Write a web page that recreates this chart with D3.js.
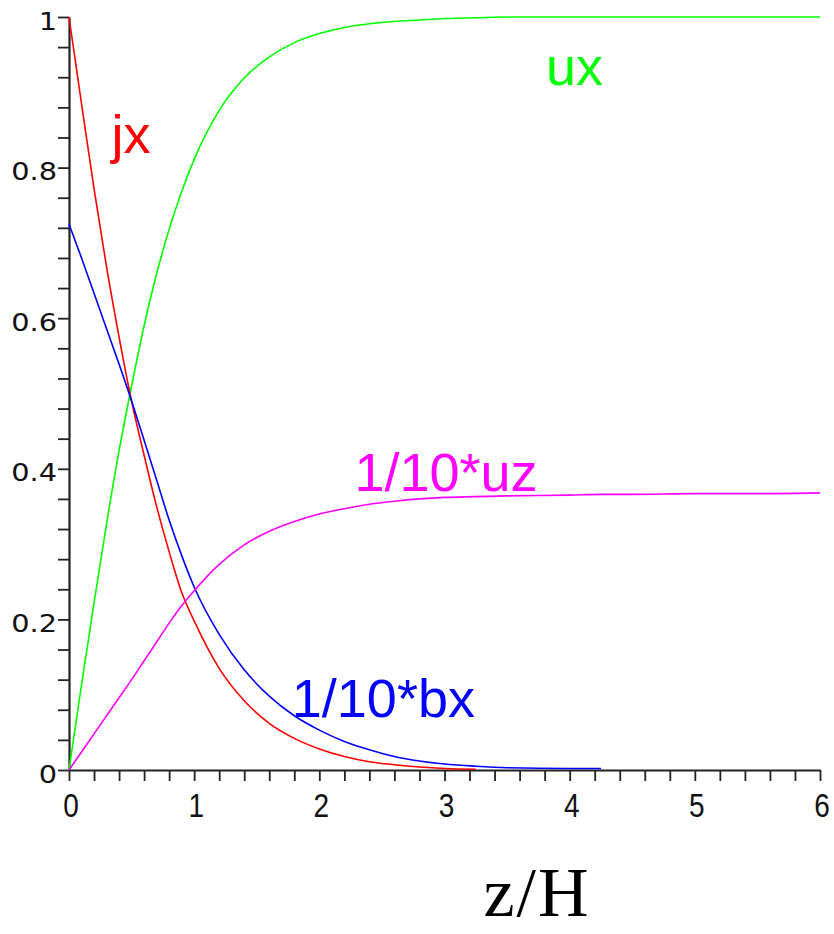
<!DOCTYPE html>
<html>
<head>
<meta charset="utf-8">
<script src="https://cdn.jsdelivr.net/npm/d3@7"></script>
<style>
  body { margin: 0; background: #fff; }
  #chart { width: 834px; height: 934px; }
</style>
</head>
<body>
<div id="chart"></div>
<script>
(function () {
  // z/H sample points shared by every curve
  var zValues = [0, 0.1, 0.2, 0.3, 0.4, 0.5, 0.6, 0.7, 0.8, 0.9, 1.0, 1.2, 1.4, 1.6, 1.8,
                 2.0, 2.2, 2.4, 2.6, 2.8, 3.0, 3.25, 3.5, 4.0, 4.25, 4.5, 5.0, 5.5, 6.0];

  var uxValues = [0, 0.113, 0.222, 0.327, 0.424, 0.51, 0.59, 0.659, 0.718, 0.768, 0.811, 0.876, 0.919, 0.947, 0.966,
                  0.978, 0.986, 0.991, 0.994, 0.996, 0.998, 0.999, 1.0, 1.0, 1.0, 1.0, 1.0, 1.0, 1.0];

  var jxValues = [1.0, 0.885, 0.772, 0.668, 0.575, 0.49, 0.418, 0.35, 0.29, 0.236, 0.198, 0.135, 0.092, 0.062, 0.042,
                  0.028, 0.018, 0.011, 0.007, 0.004, 0.002, 0.001, null, null, null, null, null, null, null];

  var bxValues = [0.725, 0.68, 0.633, 0.586, 0.539, 0.49, 0.438, 0.385, 0.332, 0.285, 0.243, 0.18, 0.133, 0.098, 0.072,
                  0.053, 0.038, 0.027, 0.018, 0.012, 0.008, 0.005, 0.003, 0.002, 0.002, null, null, null, null];

  var uzValues = [0, 0.024, 0.048, 0.072, 0.096, 0.12, 0.145, 0.17, 0.195, 0.218, 0.238, 0.273, 0.299, 0.317, 0.33,
                  0.34, 0.347, 0.353, 0.357, 0.36, 0.362, 0.363, 0.364, 0.365, 0.366, 0.366, 0.367, 0.367, 0.368];

  var xMajor = [0, 1, 2, 3, 4, 5, 6];
  var xTickLabels = ['0', '1', '2', '3', '4', '5', '6'];
  var yMajor = [0, 0.2, 0.4, 0.6, 0.8, 1];
  var yTickLabels = ['0', '0.2', '0.4', '0.6', '0.8', '1'];

  var series = [
    { name: 'ux',      values: uxValues, color: '#00ff00' },
    { name: 'jx',      values: jxValues, color: '#ff0000' },
    { name: '1/10*bx', values: bxValues, color: '#0000ff' },
    { name: '1/10*uz', values: uzValues, color: '#ff00ff' }
  ];

  // label anchors in data units (z/H, value)
  var labels = [
    { text: 'jx',      color: '#ff0000', z: 0.34, v: 0.819 },
    { text: 'ux',      color: '#00ff00', z: 3.81, v: 0.910 },
    { text: '1/10*uz', color: '#ff00ff', z: 2.28, v: 0.370 },
    { text: '1/10*bx', color: '#0000ff', z: 1.78, v: 0.071 }
  ];

  var W = 834, H = 934;

  var x = d3.scaleLinear().domain([0, 6]).range([69, 820]);
  var y = d3.scaleLinear().domain([0, 1]).range([770, 17]);

  var svg = d3.select('#chart')
    .append('svg')
    .attr('width', W)
    .attr('height', H)
    .style('display', 'block');

  svg.append('rect').attr('width', W).attr('height', H).attr('fill', '#fff');

  var xMinor = d3.range(0, 31).map(function (i) { return i * 0.2; });
  var yMinor = d3.range(0, 26).map(function (i) { return i * 0.04; });

  var xAxis = svg.append('g')
    .attr('transform', 'translate(0,' + y(0) + ')')
    .call(d3.axisBottom(x).tickValues(xMinor).tickSize(11).tickSizeOuter(0).tickFormat(''));

  var yAxis = svg.append('g')
    .attr('transform', 'translate(' + x(0) + ',0)')
    .call(d3.axisLeft(y).tickValues(yMinor).tickSize(11).tickSizeOuter(0).tickFormat(''));

  [xAxis, yAxis].forEach(function (a) {
    a.select('.domain').attr('stroke', '#222').attr('stroke-width', 2.2);
    a.selectAll('.tick line').attr('stroke', '#222').attr('stroke-width', 1.8);
  });

  // tick labels
  svg.append('g')
    .selectAll('text')
    .data(xMajor)
    .join('text')
    .attr('transform', function (d) { return 'translate(' + (x(d) + 2) + ',' + 817 + ') scale(1,1.2)'; })
    .attr('text-anchor', 'middle')
    .attr('font-family', '"Liberation Sans", Arial, sans-serif')
    .attr('font-size', 28)
    .attr('fill', '#111')
    .text(function (d, i) { return xTickLabels[i]; });

  svg.append('g')
    .selectAll('text')
    .data(yMajor)
    .join('text')
    .attr('transform', function (d) { return 'translate(57,' + (y(d) + 12.5) + ') scale(1.2,1)'; })
    .attr('text-anchor', 'end')
    .attr('font-family', '"DejaVu Sans", sans-serif')
    .attr('font-size', 24)
    .attr('fill', '#111')
    .text(function (d, i) { return yTickLabels[i]; });

  // curves
  var line = d3.line()
    .defined(function (d) { return d[1] !== null; })
    .x(function (d) { return x(d[0]); })
    .y(function (d) { return y(d[1]); })
    .curve(d3.curveMonotoneX);

  svg.append('g')
    .selectAll('path')
    .data(series)
    .join('path')
    .attr('fill', 'none')
    .attr('stroke', function (d) { return d.color; })
    .attr('stroke-width', 1.6)
    .attr('d', function (s) {
      return line(zValues.map(function (z, i) { return [z, s.values[i]]; }));
    });

  svg.append('g')
    .selectAll('text')
    .data(labels)
    .join('text')
    .attr('x', function (d) { return x(d.z); })
    .attr('y', function (d) { return y(d.v); })
    .attr('font-family', '"Liberation Sans", Arial, sans-serif')
    .attr('font-size', 54)
    .attr('fill', function (d) { return d.color; })
    .text(function (d) { return d.text; });

  // axis title
  svg.append('text')
    .attr('x', 537)
    .attr('y', 916)
    .attr('text-anchor', 'middle')
    .attr('font-family', '"Liberation Serif", "Times New Roman", serif')
    .attr('font-size', 70)
    .attr('letter-spacing', 2)
    .attr('fill', '#000')
    .text('z/H');
})();
</script>
</body>
</html>
